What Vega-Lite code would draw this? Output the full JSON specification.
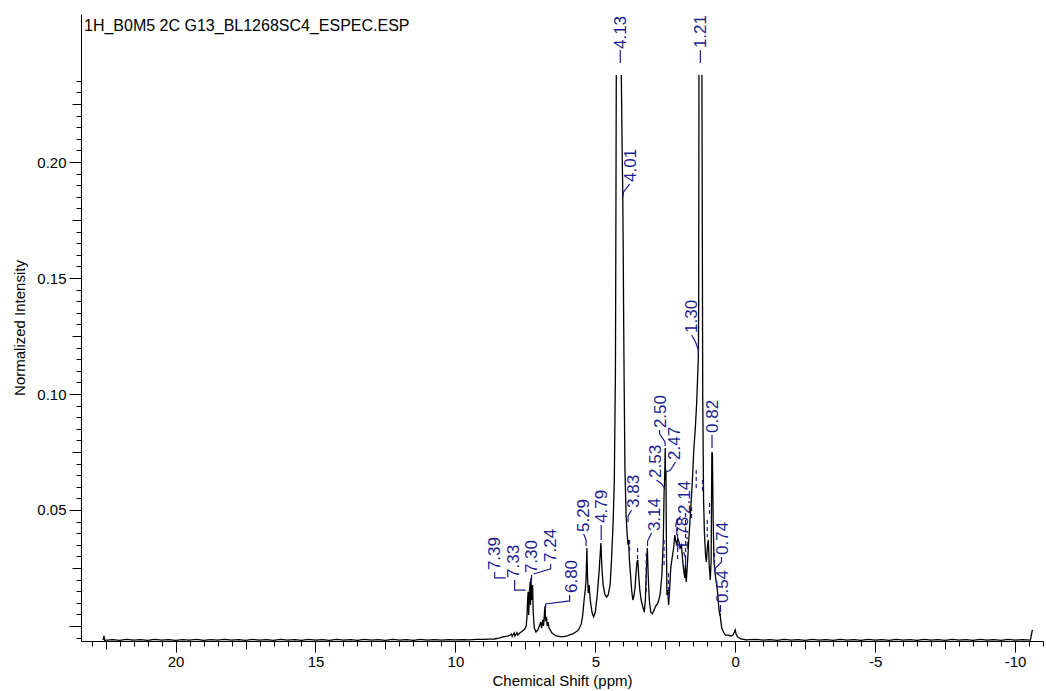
{
  "$schema": "https://vega.github.io/schema/vega-lite/v6.json",
  "width": 962,
  "height": 627,
  "autosize": {"type": "none"},
  "padding": {"left": 81, "top": 14, "right": 3, "bottom": 50},
  "background": "white",
  "title": {
    "text": "1H_B0M5 2C G13_BL1268SC4_ESPEC.ESP",
    "anchor": "start",
    "frame": "group",
    "orient": "top",
    "baseline": "top",
    "offset": 0,
    "dx": 3,
    "dy": 20,
    "font": "Liberation Sans",
    "fontSize": 16,
    "fontWeight": "normal",
    "color": "#000000"
  },
  "config": {
    "font": "Liberation Sans",
    "view": {"stroke": null},
    "axis": {
      "domainColor": "#000000",
      "domainWidth": 1,
      "tickColor": "#000000",
      "tickWidth": 1,
      "labelColor": "#000000",
      "labelFont": "Liberation Sans",
      "labelFontSize": 15,
      "titleFont": "Liberation Sans",
      "titleFontSize": 15,
      "titleFontWeight": "normal",
      "titleColor": "#000000",
      "grid": false,
      "labelOverlap": false,
      "labelFlush": false,
      "labelBound": false
    }
  },
  "datasets": {
    "spectrum": [
      {"ppm": 22.59, "int": -0.0061, "seg": 1},
      {"ppm": 22.56, "int": -0.0043, "seg": 1},
      {"ppm": 22.53, "int": -0.0062, "seg": 1},
      {"ppm": 22.25, "int": -0.0059, "seg": 1},
      {"ppm": 22.0, "int": -0.0062, "seg": 1},
      {"ppm": 21.75, "int": -0.0058, "seg": 1},
      {"ppm": 21.5, "int": -0.0061, "seg": 1},
      {"ppm": 21.25, "int": -0.0059, "seg": 1},
      {"ppm": 21.0, "int": -0.0062, "seg": 1},
      {"ppm": 20.75, "int": -0.0058, "seg": 1},
      {"ppm": 20.5, "int": -0.0061, "seg": 1},
      {"ppm": 20.25, "int": -0.0059, "seg": 1},
      {"ppm": 20.0, "int": -0.0062, "seg": 1},
      {"ppm": 19.75, "int": -0.0059, "seg": 1},
      {"ppm": 19.5, "int": -0.0061, "seg": 1},
      {"ppm": 19.25, "int": -0.0058, "seg": 1},
      {"ppm": 19.0, "int": -0.0062, "seg": 1},
      {"ppm": 18.75, "int": -0.0059, "seg": 1},
      {"ppm": 18.5, "int": -0.0061, "seg": 1},
      {"ppm": 18.25, "int": -0.0058, "seg": 1},
      {"ppm": 18.0, "int": -0.0061, "seg": 1},
      {"ppm": 17.75, "int": -0.0059, "seg": 1},
      {"ppm": 17.5, "int": -0.0062, "seg": 1},
      {"ppm": 17.25, "int": -0.0058, "seg": 1},
      {"ppm": 17.0, "int": -0.0061, "seg": 1},
      {"ppm": 16.75, "int": -0.0059, "seg": 1},
      {"ppm": 16.5, "int": -0.0062, "seg": 1},
      {"ppm": 16.25, "int": -0.0058, "seg": 1},
      {"ppm": 16.0, "int": -0.0061, "seg": 1},
      {"ppm": 15.75, "int": -0.0059, "seg": 1},
      {"ppm": 15.5, "int": -0.0062, "seg": 1},
      {"ppm": 15.25, "int": -0.0058, "seg": 1},
      {"ppm": 15.0, "int": -0.0061, "seg": 1},
      {"ppm": 14.75, "int": -0.0059, "seg": 1},
      {"ppm": 14.5, "int": -0.0062, "seg": 1},
      {"ppm": 14.25, "int": -0.0058, "seg": 1},
      {"ppm": 14.0, "int": -0.0061, "seg": 1},
      {"ppm": 13.75, "int": -0.0059, "seg": 1},
      {"ppm": 13.5, "int": -0.0062, "seg": 1},
      {"ppm": 13.25, "int": -0.0058, "seg": 1},
      {"ppm": 13.0, "int": -0.0061, "seg": 1},
      {"ppm": 12.75, "int": -0.0059, "seg": 1},
      {"ppm": 12.5, "int": -0.0062, "seg": 1},
      {"ppm": 12.25, "int": -0.0058, "seg": 1},
      {"ppm": 12.0, "int": -0.0061, "seg": 1},
      {"ppm": 11.75, "int": -0.0059, "seg": 1},
      {"ppm": 11.5, "int": -0.0062, "seg": 1},
      {"ppm": 11.25, "int": -0.0058, "seg": 1},
      {"ppm": 11.0, "int": -0.0061, "seg": 1},
      {"ppm": 10.75, "int": -0.0059, "seg": 1},
      {"ppm": 10.5, "int": -0.0061, "seg": 1},
      {"ppm": 10.25, "int": -0.0059, "seg": 1},
      {"ppm": 10.0, "int": -0.0060, "seg": 1},
      {"ppm": 9.75, "int": -0.0059, "seg": 1},
      {"ppm": 9.5, "int": -0.0060, "seg": 1},
      {"ppm": 9.25, "int": -0.0058, "seg": 1},
      {"ppm": 9.0, "int": -0.0058, "seg": 1},
      {"ppm": 8.8, "int": -0.0057, "seg": 1},
      {"ppm": 8.6, "int": -0.0056, "seg": 1},
      {"ppm": 8.45, "int": -0.0052, "seg": 1},
      {"ppm": 8.3, "int": -0.0047, "seg": 1},
      {"ppm": 8.15, "int": -0.0044, "seg": 1},
      {"ppm": 8.05, "int": -0.0040, "seg": 1},
      {"ppm": 8.0, "int": -0.0034, "seg": 1},
      {"ppm": 7.97, "int": -0.0045, "seg": 1},
      {"ppm": 7.9, "int": -0.0030, "seg": 1},
      {"ppm": 7.87, "int": -0.0043, "seg": 1},
      {"ppm": 7.8, "int": -0.0028, "seg": 1},
      {"ppm": 7.77, "int": -0.0039, "seg": 1},
      {"ppm": 7.7, "int": -0.0030, "seg": 1},
      {"ppm": 7.6, "int": -0.0022, "seg": 1},
      {"ppm": 7.52, "int": -0.0013, "seg": 1},
      {"ppm": 7.47, "int": 0.0, "seg": 1},
      {"ppm": 7.44, "int": 0.0040, "seg": 1},
      {"ppm": 7.42, "int": 0.0112, "seg": 1},
      {"ppm": 7.40, "int": 0.0147, "seg": 1},
      {"ppm": 7.38, "int": 0.0047, "seg": 1},
      {"ppm": 7.35, "int": 0.0155, "seg": 1},
      {"ppm": 7.33, "int": 0.0185, "seg": 1},
      {"ppm": 7.315, "int": 0.0091, "seg": 1},
      {"ppm": 7.30, "int": 0.0207, "seg": 1},
      {"ppm": 7.27, "int": 0.0112, "seg": 1},
      {"ppm": 7.24, "int": 0.0177, "seg": 1},
      {"ppm": 7.22, "int": 0.0060, "seg": 1},
      {"ppm": 7.18, "int": -0.0009, "seg": 1},
      {"ppm": 7.12, "int": -0.0026, "seg": 1},
      {"ppm": 7.05, "int": -0.0017, "seg": 1},
      {"ppm": 7.0, "int": 0.0, "seg": 1},
      {"ppm": 6.95, "int": 0.0017, "seg": 1},
      {"ppm": 6.92, "int": -0.0009, "seg": 1},
      {"ppm": 6.88, "int": 0.0026, "seg": 1},
      {"ppm": 6.85, "int": 0.0, "seg": 1},
      {"ppm": 6.81, "int": 0.0069, "seg": 1},
      {"ppm": 6.795, "int": 0.0086, "seg": 1},
      {"ppm": 6.78, "int": 0.0026, "seg": 1},
      {"ppm": 6.74, "int": 0.0034, "seg": 1},
      {"ppm": 6.72, "int": 0.0, "seg": 1},
      {"ppm": 6.69, "int": 0.0017, "seg": 1},
      {"ppm": 6.65, "int": -0.0009, "seg": 1},
      {"ppm": 6.55, "int": -0.0030, "seg": 1},
      {"ppm": 6.4, "int": -0.0043, "seg": 1},
      {"ppm": 6.2, "int": -0.0047, "seg": 1},
      {"ppm": 6.0, "int": -0.0043, "seg": 1},
      {"ppm": 5.9, "int": -0.0037, "seg": 1},
      {"ppm": 5.8, "int": -0.0034, "seg": 1},
      {"ppm": 5.7, "int": -0.0026, "seg": 1},
      {"ppm": 5.6, "int": -0.0017, "seg": 1},
      {"ppm": 5.5, "int": 0.0009, "seg": 1},
      {"ppm": 5.45, "int": 0.0047, "seg": 1},
      {"ppm": 5.40, "int": 0.0112, "seg": 1},
      {"ppm": 5.36, "int": 0.0155, "seg": 1},
      {"ppm": 5.33, "int": 0.0198, "seg": 1},
      {"ppm": 5.30, "int": 0.0336, "seg": 1},
      {"ppm": 5.28, "int": 0.0220, "seg": 1},
      {"ppm": 5.25, "int": 0.0142, "seg": 1},
      {"ppm": 5.22, "int": 0.0177, "seg": 1},
      {"ppm": 5.18, "int": 0.0112, "seg": 1},
      {"ppm": 5.12, "int": 0.0060, "seg": 1},
      {"ppm": 5.06, "int": 0.0039, "seg": 1},
      {"ppm": 5.0, "int": 0.0060, "seg": 1},
      {"ppm": 4.93, "int": 0.0134, "seg": 1},
      {"ppm": 4.86, "int": 0.0241, "seg": 1},
      {"ppm": 4.80, "int": 0.0358, "seg": 1},
      {"ppm": 4.76, "int": 0.0241, "seg": 1},
      {"ppm": 4.72, "int": 0.0177, "seg": 1},
      {"ppm": 4.66, "int": 0.0138, "seg": 1},
      {"ppm": 4.60, "int": 0.0125, "seg": 1},
      {"ppm": 4.54, "int": 0.0134, "seg": 1},
      {"ppm": 4.47, "int": 0.0177, "seg": 1},
      {"ppm": 4.42, "int": 0.0284, "seg": 1},
      {"ppm": 4.36, "int": 0.0457, "seg": 1},
      {"ppm": 4.32, "int": 0.0629, "seg": 1},
      {"ppm": 4.28, "int": 0.1100, "seg": 1},
      {"ppm": 4.265, "int": 0.1700, "seg": 1},
      {"ppm": 4.25, "int": 0.2375, "seg": 1},
      {"ppm": 4.07, "int": 0.2375, "seg": 2},
      {"ppm": 4.04, "int": 0.2052, "seg": 2},
      {"ppm": 4.02, "int": 0.1880, "seg": 2},
      {"ppm": 4.005, "int": 0.1664, "seg": 2},
      {"ppm": 3.985, "int": 0.1300, "seg": 2},
      {"ppm": 3.97, "int": 0.1060, "seg": 2},
      {"ppm": 3.94, "int": 0.0672, "seg": 2},
      {"ppm": 3.90, "int": 0.0478, "seg": 2},
      {"ppm": 3.86, "int": 0.0392, "seg": 2},
      {"ppm": 3.83, "int": 0.0349, "seg": 2},
      {"ppm": 3.81, "int": 0.0371, "seg": 2},
      {"ppm": 3.78, "int": 0.0284, "seg": 2},
      {"ppm": 3.74, "int": 0.0220, "seg": 2},
      {"ppm": 3.70, "int": 0.0155, "seg": 2},
      {"ppm": 3.66, "int": 0.0112, "seg": 2},
      {"ppm": 3.62, "int": 0.0129, "seg": 2},
      {"ppm": 3.58, "int": 0.0164, "seg": 2},
      {"ppm": 3.55, "int": 0.0220, "seg": 2},
      {"ppm": 3.51, "int": 0.0276, "seg": 2},
      {"ppm": 3.48, "int": 0.0284, "seg": 2},
      {"ppm": 3.45, "int": 0.0220, "seg": 2},
      {"ppm": 3.41, "int": 0.0155, "seg": 2},
      {"ppm": 3.36, "int": 0.0112, "seg": 2},
      {"ppm": 3.30, "int": 0.0082, "seg": 2},
      {"ppm": 3.25, "int": 0.0060, "seg": 2},
      {"ppm": 3.21, "int": 0.0112, "seg": 2},
      {"ppm": 3.17, "int": 0.0263, "seg": 2},
      {"ppm": 3.14, "int": 0.0336, "seg": 2},
      {"ppm": 3.11, "int": 0.0220, "seg": 2},
      {"ppm": 3.07, "int": 0.0112, "seg": 2},
      {"ppm": 3.02, "int": 0.0060, "seg": 2},
      {"ppm": 2.96, "int": 0.0052, "seg": 2},
      {"ppm": 2.90, "int": 0.0069, "seg": 2},
      {"ppm": 2.84, "int": 0.0086, "seg": 2},
      {"ppm": 2.78, "int": 0.0095, "seg": 2},
      {"ppm": 2.73, "int": 0.0112, "seg": 2},
      {"ppm": 2.68, "int": 0.0138, "seg": 2},
      {"ppm": 2.62, "int": 0.0220, "seg": 2},
      {"ppm": 2.57, "int": 0.0371, "seg": 2},
      {"ppm": 2.54, "int": 0.0586, "seg": 2},
      {"ppm": 2.53, "int": 0.0599, "seg": 2},
      {"ppm": 2.515, "int": 0.0672, "seg": 2},
      {"ppm": 2.50, "int": 0.0767, "seg": 2},
      {"ppm": 2.49, "int": 0.0629, "seg": 2},
      {"ppm": 2.475, "int": 0.0672, "seg": 2},
      {"ppm": 2.46, "int": 0.0371, "seg": 2},
      {"ppm": 2.44, "int": 0.0134, "seg": 2},
      {"ppm": 2.41, "int": 0.0155, "seg": 2},
      {"ppm": 2.38, "int": 0.0091, "seg": 2},
      {"ppm": 2.35, "int": 0.0147, "seg": 2},
      {"ppm": 2.30, "int": 0.0254, "seg": 2},
      {"ppm": 2.25, "int": 0.0297, "seg": 2},
      {"ppm": 2.20, "int": 0.0336, "seg": 2},
      {"ppm": 2.16, "int": 0.0392, "seg": 2},
      {"ppm": 2.13, "int": 0.0371, "seg": 2},
      {"ppm": 2.09, "int": 0.0349, "seg": 2},
      {"ppm": 2.05, "int": 0.0379, "seg": 2},
      {"ppm": 2.01, "int": 0.0362, "seg": 2},
      {"ppm": 1.97, "int": 0.0336, "seg": 2},
      {"ppm": 1.92, "int": 0.0349, "seg": 2},
      {"ppm": 1.88, "int": 0.0284, "seg": 2},
      {"ppm": 1.84, "int": 0.0241, "seg": 2},
      {"ppm": 1.80, "int": 0.0207, "seg": 2},
      {"ppm": 1.78, "int": 0.0263, "seg": 2},
      {"ppm": 1.75, "int": 0.0190, "seg": 2},
      {"ppm": 1.71, "int": 0.0263, "seg": 2},
      {"ppm": 1.67, "int": 0.0349, "seg": 2},
      {"ppm": 1.63, "int": 0.0427, "seg": 2},
      {"ppm": 1.58, "int": 0.0522, "seg": 2},
      {"ppm": 1.53, "int": 0.0629, "seg": 2},
      {"ppm": 1.48, "int": 0.0759, "seg": 2},
      {"ppm": 1.43, "int": 0.0845, "seg": 2},
      {"ppm": 1.38, "int": 0.0953, "seg": 2},
      {"ppm": 1.34, "int": 0.1082, "seg": 2},
      {"ppm": 1.315, "int": 0.1168, "seg": 2},
      {"ppm": 1.305, "int": 0.1405, "seg": 2},
      {"ppm": 1.295, "int": 0.2375, "seg": 2},
      {"ppm": 1.19, "int": 0.2375, "seg": 3},
      {"ppm": 1.16, "int": 0.0974, "seg": 3},
      {"ppm": 1.13, "int": 0.0543, "seg": 3},
      {"ppm": 1.10, "int": 0.0400, "seg": 3},
      {"ppm": 1.06, "int": 0.0306, "seg": 3},
      {"ppm": 1.03, "int": 0.0276, "seg": 3},
      {"ppm": 0.99, "int": 0.0349, "seg": 3},
      {"ppm": 0.96, "int": 0.0371, "seg": 3},
      {"ppm": 0.93, "int": 0.0263, "seg": 3},
      {"ppm": 0.89, "int": 0.0198, "seg": 3},
      {"ppm": 0.86, "int": 0.0284, "seg": 3},
      {"ppm": 0.835, "int": 0.0746, "seg": 3},
      {"ppm": 0.815, "int": 0.0746, "seg": 3},
      {"ppm": 0.79, "int": 0.0478, "seg": 3},
      {"ppm": 0.76, "int": 0.0284, "seg": 3},
      {"ppm": 0.73, "int": 0.0241, "seg": 3},
      {"ppm": 0.70, "int": 0.0207, "seg": 3},
      {"ppm": 0.66, "int": 0.0177, "seg": 3},
      {"ppm": 0.62, "int": 0.0134, "seg": 3},
      {"ppm": 0.58, "int": 0.0069, "seg": 3},
      {"ppm": 0.555, "int": 0.0052, "seg": 3},
      {"ppm": 0.54, "int": 0.0056, "seg": 3},
      {"ppm": 0.52, "int": 0.0026, "seg": 3},
      {"ppm": 0.48, "int": -0.0009, "seg": 3},
      {"ppm": 0.42, "int": -0.0026, "seg": 3},
      {"ppm": 0.35, "int": -0.0039, "seg": 3},
      {"ppm": 0.25, "int": -0.0039, "seg": 3},
      {"ppm": 0.15, "int": -0.0043, "seg": 3},
      {"ppm": 0.08, "int": -0.0039, "seg": 3},
      {"ppm": 0.03, "int": -0.0026, "seg": 3},
      {"ppm": 0.0, "int": -0.0017, "seg": 3},
      {"ppm": -0.03, "int": -0.0034, "seg": 3},
      {"ppm": -0.08, "int": -0.0047, "seg": 3},
      {"ppm": -0.2, "int": -0.0056, "seg": 3},
      {"ppm": -0.4, "int": -0.0060, "seg": 3},
      {"ppm": -0.75, "int": -0.0058, "seg": 3},
      {"ppm": -1.0, "int": -0.0061, "seg": 3},
      {"ppm": -1.25, "int": -0.0059, "seg": 3},
      {"ppm": -1.5, "int": -0.0062, "seg": 3},
      {"ppm": -1.75, "int": -0.0058, "seg": 3},
      {"ppm": -2.0, "int": -0.0061, "seg": 3},
      {"ppm": -2.25, "int": -0.0059, "seg": 3},
      {"ppm": -2.5, "int": -0.0062, "seg": 3},
      {"ppm": -2.75, "int": -0.0058, "seg": 3},
      {"ppm": -3.0, "int": -0.0061, "seg": 3},
      {"ppm": -3.25, "int": -0.0059, "seg": 3},
      {"ppm": -3.5, "int": -0.0062, "seg": 3},
      {"ppm": -3.75, "int": -0.0058, "seg": 3},
      {"ppm": -4.0, "int": -0.0061, "seg": 3},
      {"ppm": -4.25, "int": -0.0059, "seg": 3},
      {"ppm": -4.5, "int": -0.0062, "seg": 3},
      {"ppm": -4.75, "int": -0.0058, "seg": 3},
      {"ppm": -5.0, "int": -0.0061, "seg": 3},
      {"ppm": -5.25, "int": -0.0059, "seg": 3},
      {"ppm": -5.5, "int": -0.0062, "seg": 3},
      {"ppm": -5.75, "int": -0.0058, "seg": 3},
      {"ppm": -6.0, "int": -0.0061, "seg": 3},
      {"ppm": -6.25, "int": -0.0059, "seg": 3},
      {"ppm": -6.5, "int": -0.0062, "seg": 3},
      {"ppm": -6.75, "int": -0.0058, "seg": 3},
      {"ppm": -7.0, "int": -0.0061, "seg": 3},
      {"ppm": -7.25, "int": -0.0059, "seg": 3},
      {"ppm": -7.5, "int": -0.0062, "seg": 3},
      {"ppm": -7.75, "int": -0.0058, "seg": 3},
      {"ppm": -8.0, "int": -0.0061, "seg": 3},
      {"ppm": -8.25, "int": -0.0059, "seg": 3},
      {"ppm": -8.5, "int": -0.0062, "seg": 3},
      {"ppm": -8.75, "int": -0.0058, "seg": 3},
      {"ppm": -9.0, "int": -0.0061, "seg": 3},
      {"ppm": -9.25, "int": -0.0059, "seg": 3},
      {"ppm": -9.5, "int": -0.0062, "seg": 3},
      {"ppm": -9.75, "int": -0.0058, "seg": 3},
      {"ppm": -10.0, "int": -0.0061, "seg": 3},
      {"ppm": -10.25, "int": -0.0059, "seg": 3},
      {"ppm": -10.55, "int": -0.0061, "seg": 3},
      {"ppm": -10.62, "int": -0.0017, "seg": 3}
    ],
    "peakLabels": [
      {"label": "7.39", "ppm": 8.596, "int": 0.0241},
      {"label": "7.33", "ppm": 7.918, "int": 0.0207},
      {"label": "7.30", "ppm": 7.275, "int": 0.0228},
      {"label": "7.24", "ppm": 6.596, "int": 0.0276},
      {"label": "6.80", "ppm": 5.846, "int": 0.0142},
      {"label": "5.29", "ppm": 5.418, "int": 0.0405},
      {"label": "4.79", "ppm": 4.775, "int": 0.0444},
      {"label": "4.13", "ppm": 4.071, "int": 0.2487},
      {"label": "4.01", "ppm": 3.739, "int": 0.1914},
      {"label": "3.83", "ppm": 3.632, "int": 0.0509},
      {"label": "3.14", "ppm": 2.882, "int": 0.0409},
      {"label": "2.53", "ppm": 2.846, "int": 0.0638},
      {"label": "2.50", "ppm": 2.668, "int": 0.0853},
      {"label": "2.47", "ppm": 2.168, "int": 0.0716},
      {"label": "2.14", "ppm": 1.811, "int": 0.0483},
      {"label": "1.78", "ppm": 1.882, "int": 0.0328},
      {"label": "1.30", "ppm": 1.561, "int": 0.1263},
      {"label": "1.21", "ppm": 1.239, "int": 0.2491},
      {"label": "0.82", "ppm": 0.811, "int": 0.0832},
      {"label": "0.74", "ppm": 0.454, "int": 0.0306},
      {"label": "0.54", "ppm": 0.454, "int": 0.0099}
    ],
    "leaders": [
      {"id": "7.39", "k": 1, "ppm": 8.596, "int": 0.0233},
      {"id": "7.39", "k": 2, "ppm": 8.596, "int": 0.0207},
      {"id": "7.39", "k": 3, "ppm": 8.204, "int": 0.0207},
      {"id": "7.33", "k": 1, "ppm": 7.882, "int": 0.0198},
      {"id": "7.33", "k": 2, "ppm": 7.882, "int": 0.0155},
      {"id": "7.33", "k": 3, "ppm": 7.489, "int": 0.0155},
      {"id": "7.30", "k": 1, "ppm": 7.275, "int": 0.0220},
      {"id": "7.30", "k": 2, "ppm": 7.275, "int": 0.0203},
      {"id": "7.30", "k": 3, "ppm": 7.346, "int": 0.0185},
      {"id": "7.24", "k": 1, "ppm": 6.596, "int": 0.0267},
      {"id": "7.24", "k": 2, "ppm": 6.596, "int": 0.0246},
      {"id": "7.24", "k": 3, "ppm": 7.204, "int": 0.0224},
      {"id": "6.80", "k": 1, "ppm": 5.918, "int": 0.0134},
      {"id": "6.80", "k": 2, "ppm": 5.918, "int": 0.0108},
      {"id": "6.80", "k": 3, "ppm": 6.775, "int": 0.0095},
      {"id": "6.80", "k": 4, "ppm": 6.775, "int": 0.0078},
      {"id": "5.29", "k": 1, "ppm": 5.418, "int": 0.0397},
      {"id": "5.29", "k": 2, "ppm": 5.329, "int": 0.0371},
      {"id": "5.29", "k": 3, "ppm": 5.329, "int": 0.0345},
      {"id": "4.79", "k": 1, "ppm": 4.789, "int": 0.0435},
      {"id": "4.79", "k": 2, "ppm": 4.789, "int": 0.0371},
      {"id": "4.13", "k": 1, "ppm": 4.107, "int": 0.2483},
      {"id": "4.13", "k": 2, "ppm": 4.107, "int": 0.2427},
      {"id": "4.01", "k": 1, "ppm": 3.775, "int": 0.1905},
      {"id": "4.01", "k": 2, "ppm": 3.989, "int": 0.1871},
      {"id": "4.01", "k": 3, "ppm": 4.011, "int": 0.1849},
      {"id": "3.83", "k": 1, "ppm": 3.704, "int": 0.0500},
      {"id": "3.83", "k": 2, "ppm": 3.829, "int": 0.0474},
      {"id": "3.83", "k": 3, "ppm": 3.829, "int": 0.0448},
      {"id": "3.14", "k": 1, "ppm": 2.989, "int": 0.0401},
      {"id": "3.14", "k": 2, "ppm": 3.132, "int": 0.0366},
      {"id": "3.14", "k": 3, "ppm": 3.132, "int": 0.0345},
      {"id": "2.53", "k": 1, "ppm": 2.811, "int": 0.0629},
      {"id": "2.53", "k": 2, "ppm": 2.632, "int": 0.0612},
      {"id": "2.53", "k": 3, "ppm": 2.529, "int": 0.0595},
      {"id": "2.50", "k": 1, "ppm": 2.704, "int": 0.0845},
      {"id": "2.50", "k": 2, "ppm": 2.704, "int": 0.0828},
      {"id": "2.50", "k": 3, "ppm": 2.507, "int": 0.0793},
      {"id": "2.50", "k": 4, "ppm": 2.507, "int": 0.0776},
      {"id": "2.47", "k": 1, "ppm": 2.132, "int": 0.0707},
      {"id": "2.47", "k": 2, "ppm": 2.311, "int": 0.0672},
      {"id": "2.47", "k": 3, "ppm": 2.454, "int": 0.0664},
      {"id": "2.14", "k": 1, "ppm": 1.954, "int": 0.0474},
      {"id": "2.14", "k": 2, "ppm": 2.096, "int": 0.0448},
      {"id": "2.14", "k": 3, "ppm": 2.132, "int": 0.0427},
      {"id": "1.78", "k": 1, "ppm": 1.846, "int": 0.0319},
      {"id": "1.78", "k": 2, "ppm": 1.775, "int": 0.0293},
      {"id": "1.78", "k": 3, "ppm": 1.775, "int": 0.0276},
      {"id": "1.30", "k": 1, "ppm": 1.561, "int": 0.1254},
      {"id": "1.30", "k": 2, "ppm": 1.418, "int": 0.1224},
      {"id": "1.30", "k": 3, "ppm": 1.318, "int": 0.1190},
      {"id": "1.30", "k": 4, "ppm": 1.318, "int": 0.1168},
      {"id": "1.21", "k": 1, "ppm": 1.246, "int": 0.2483},
      {"id": "1.21", "k": 2, "ppm": 1.246, "int": 0.2427},
      {"id": "0.82", "k": 1, "ppm": 0.829, "int": 0.0823},
      {"id": "0.82", "k": 2, "ppm": 0.829, "int": 0.0767},
      {"id": "0.74", "k": 1, "ppm": 0.489, "int": 0.0297},
      {"id": "0.74", "k": 2, "ppm": 0.489, "int": 0.0276},
      {"id": "0.74", "k": 3, "ppm": 0.704, "int": 0.0250},
      {"id": "0.74", "k": 4, "ppm": 0.729, "int": 0.0233},
      {"id": "0.54", "k": 1, "ppm": 0.525, "int": 0.0091},
      {"id": "0.54", "k": 2, "ppm": 0.525, "int": 0.0060}
    ],
    "hiddenLeaders": [
      {"ppm": 3.775, "int": 0.0371, "int2": 0.0315},
      {"ppm": 3.489, "int": 0.0336, "int2": 0.0284},
      {"ppm": 3.179, "int": 0.0315, "int2": 0.0142},
      {"ppm": 2.543, "int": 0.0371, "int2": 0.0254},
      {"ppm": 2.382, "int": 0.0228, "int2": 0.0112},
      {"ppm": 2.061, "int": 0.0457, "int2": 0.0284},
      {"ppm": 1.775, "int": 0.0487, "int2": 0.0254},
      {"ppm": 1.561, "int": 0.0513, "int2": 0.0457},
      {"ppm": 1.393, "int": 0.0672, "int2": 0.0586},
      {"ppm": 1.168, "int": 0.0629, "int2": 0.0573},
      {"ppm": 1.0, "int": 0.0457, "int2": 0.0384},
      {"ppm": 0.918, "int": 0.0530, "int2": 0.0470},
      {"ppm": 0.739, "int": 0.0315, "int2": 0.0228}
    ]
  },
  "encoding": {
    "x": {
      "field": "ppm",
      "type": "quantitative",
      "scale": {"domain": [-11.0, 23.38], "reverse": true, "nice": false, "zero": false},
      "axis": {
        "title": "Chemical Shift (ppm)",
        "values": [-11, -10.5, -10, -9.5, -9, -8.5, -8, -7.5, -7, -6.5, -6, -5.5, -5, -4.5, -4, -3.5, -3, -2.5, -2, -1.5, -1, -0.5, 0, 0.5, 1, 1.5, 2, 2.5, 3, 3.5, 4, 4.5, 5, 5.5, 6, 6.5, 7, 7.5, 8, 8.5, 9, 9.5, 10, 10.5, 11, 11.5, 12, 12.5, 13, 13.5, 14, 14.5, 15, 15.5, 16, 16.5, 17, 17.5, 18, 18.5, 19, 19.5, 20, 20.5, 21, 21.5, 22, 22.5, 23],
        "labelExpr": "datum.value % 5 === 0 ? '' + datum.value : ''",
        "tickSize": {"condition": [{"test": "datum.value % 5 === 0", "value": 11}, {"test": "datum.value % 2.5 === 0", "value": 8}], "value": 5},
        "labelPadding": 2,
        "titlePadding": 4
      }
    },
    "y": {
      "field": "int",
      "type": "quantitative",
      "scale": {"domain": [-0.00647, 0.2638], "nice": false, "zero": false},
      "axis": {
        "title": "Normalized Intensity",
        "values": [-0.005, 0, 0.005, 0.01, 0.015, 0.02, 0.025, 0.03, 0.035, 0.04, 0.045, 0.05, 0.055, 0.06, 0.065, 0.07, 0.075, 0.08, 0.085, 0.09, 0.095, 0.1, 0.105, 0.11, 0.115, 0.12, 0.125, 0.13, 0.135, 0.14, 0.145, 0.15, 0.155, 0.16, 0.165, 0.17, 0.175, 0.18, 0.185, 0.19, 0.195, 0.2, 0.205, 0.21, 0.215, 0.22, 0.225, 0.23, 0.235],
        "labelExpr": "round(datum.value * 1000) % 50 === 0 && datum.value > 0 ? format(datum.value, '.2f') : ''",
        "tickSize": {"condition": [{"test": "round(datum.value * 1000) % 50 === 0", "value": 12}, {"test": "round(datum.value * 1000) % 25 === 0", "value": 9}], "value": 5},
        "labelPadding": 3,
        "titlePadding": 9
      }
    }
  },
  "layer": [
    {
      "data": {"name": "spectrum"},
      "mark": {"type": "line", "color": "#000000", "strokeWidth": 1.3, "interpolate": "linear"},
      "encoding": {"detail": {"field": "seg", "type": "nominal"}}
    },
    {
      "data": {"name": "leaders"},
      "mark": {"type": "line", "color": "#1c1c8e", "strokeWidth": 1.2},
      "encoding": {
        "detail": {"field": "id", "type": "nominal"},
        "order": {"field": "k", "type": "quantitative"}
      }
    },
    {
      "data": {"name": "hiddenLeaders"},
      "mark": {"type": "rule", "color": "#1c1c8e", "strokeWidth": 1.2, "strokeDash": [4, 3]},
      "encoding": {"y2": {"field": "int2"}}
    },
    {
      "data": {"name": "peakLabels"},
      "mark": {"type": "text", "angle": 270, "align": "left", "baseline": "middle", "font": "Liberation Sans", "fontSize": 17, "color": "#1c1c8e"},
      "encoding": {"text": {"field": "label", "type": "nominal"}}
    }
  ]
}
